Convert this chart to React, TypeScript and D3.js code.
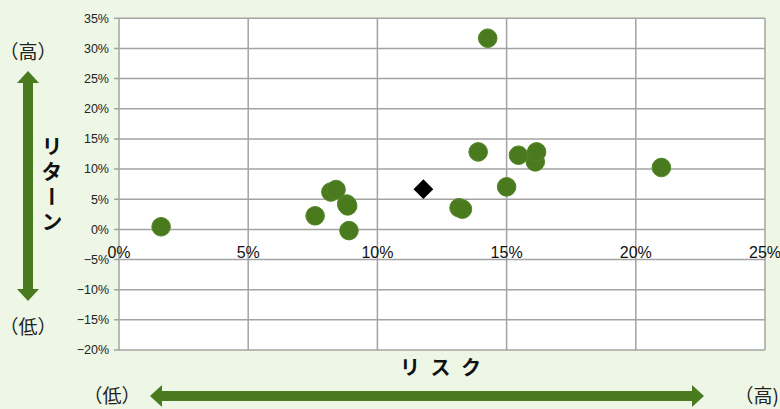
import React from "react";
import * as d3 from "d3";

const riskValues = [1.63, 7.59, 8.2, 8.4, 8.81, 8.85, 8.9, 13.16, 13.29, 13.9, 14.27, 15.0, 15.46, 16.11, 16.16, 20.99];
const returnValues = [0.43, 2.25, 6.2, 6.6, 4.2, 3.9, -0.2, 3.58, 3.36, 12.85, 31.7, 7.05, 12.3, 11.2, 12.85, 10.26];
const benchmarkRisk = [11.78];
const benchmarkReturn = [6.67];
const xTicks = [0, 5, 10, 15, 20, 25];
const yTicks = [35, 30, 25, 20, 15, 10, 5, 0, -5, -10, -15, -20];

const W = 780;
const H = 409;
const GREEN = "#4a7a1e";
const GRID = "#a3a3a3";
const JP = "'Noto Sans CJK JP', 'Noto Sans', sans-serif";
const NUM = "'Liberation Sans Narrow', 'Arial Narrow', 'Liberation Sans', sans-serif";

export default function App() {
  const x = d3.scaleLinear().domain([0, 25]).range([119, 765]);
  const y = d3.scaleLinear().domain([-20, 35]).range([350, 18.3]);
  const fmt = (v: number) => (v < 0 ? "\u2212" + Math.abs(v) : String(v)) + "%";

  const diamond = d3.symbol().type(d3.symbolDiamond2).size(250)();

  return (
    <div style={{ position: "fixed", left: 0, top: 0, width: W, height: H }}>
      <svg width={W} height={H} style={{ display: "block" }}>
        <rect x={0} y={0} width={W} height={H} fill="#eef6e6" />
        <rect x={x(0)} y={y(35)} width={x(25) - x(0)} height={y(-20) - y(35)} fill="#ffffff" />
        {yTicks.map((t) => (
          <g key={"y" + t}>
            <line x1={x(0) - 5} x2={x(25)} y1={y(t)} y2={y(t)} stroke={GRID} strokeWidth={1.5} />
            <text x={109} y={y(t)} dy="0.35em" textAnchor="end" fontFamily={NUM} fontSize={12.5} fill="#222">
              {fmt(t)}
            </text>
          </g>
        ))}
        {xTicks.map((t) => (
          <g key={"x" + t}>
            <line x1={x(t)} x2={x(t)} y1={y(35)} y2={y(-20)} stroke={GRID} strokeWidth={1.5} />
            <text x={x(t)} y={258} textAnchor="middle" fontFamily={NUM} fontSize={16} fill="#111">
              {fmt(t)}
            </text>
          </g>
        ))}
        {riskValues.map((r, i) => (
          <circle key={"p" + i} cx={x(r)} cy={y(returnValues[i])} r={9.3} fill={GREEN} stroke="#528526" strokeWidth={1} />
        ))}
        {benchmarkRisk.map((r, i) => (
          <path key={"b" + i} d={diamond as string} transform={`translate(${x(r)},${y(benchmarkReturn[i])})`} fill="#000" />
        ))}

        {/* vertical arrow */}
        <rect x={23} y={82} width={10} height={208} fill={GREEN} />
        <path d="M28,71 L39,83 L17,83 Z" fill={GREEN} />
        <path d="M28,301 L39,289 L17,289 Z" fill={GREEN} />
        {/* horizontal arrow */}
        <rect x={160} y={391} width={534} height={10} fill={GREEN} />
        <path d="M150,396 L162,385 L162,407 Z" fill={GREEN} />
        <path d="M704,396 L692,385 L692,407 Z" fill={GREEN} />

        <text x={28} y={52} dy="0.35em" textAnchor="middle" fontFamily={JP} fontSize={19} fill="#222">（高）</text>
        <text x={28} y={327} dy="0.35em" textAnchor="middle" fontFamily={JP} fontSize={19} fill="#222">（低）</text>
        <text x={112} y={396} dy="0.35em" textAnchor="middle" fontFamily={JP} fontSize={19} fill="#222">（低）</text>
        <text x={779} y={396} dy="0.35em" textAnchor="end" fontFamily={JP} fontSize={19} fill="#222">（高)</text>

        <text
          x={52}
          y={136}
          fontFamily={JP}
          fontSize={21}
          fontWeight="bold"
          fill="#111"
          style={{ writingMode: "vertical-rl", letterSpacing: "4px" } as any}
        >
          リターン
        </text>
        <text x={442} y={368} dy="0.35em" textAnchor="middle" fontFamily={JP} fontSize={20} fontWeight="bold" fill="#111" letterSpacing="3px">
          リ ス ク
        </text>
      </svg>
    </div>
  );
}
